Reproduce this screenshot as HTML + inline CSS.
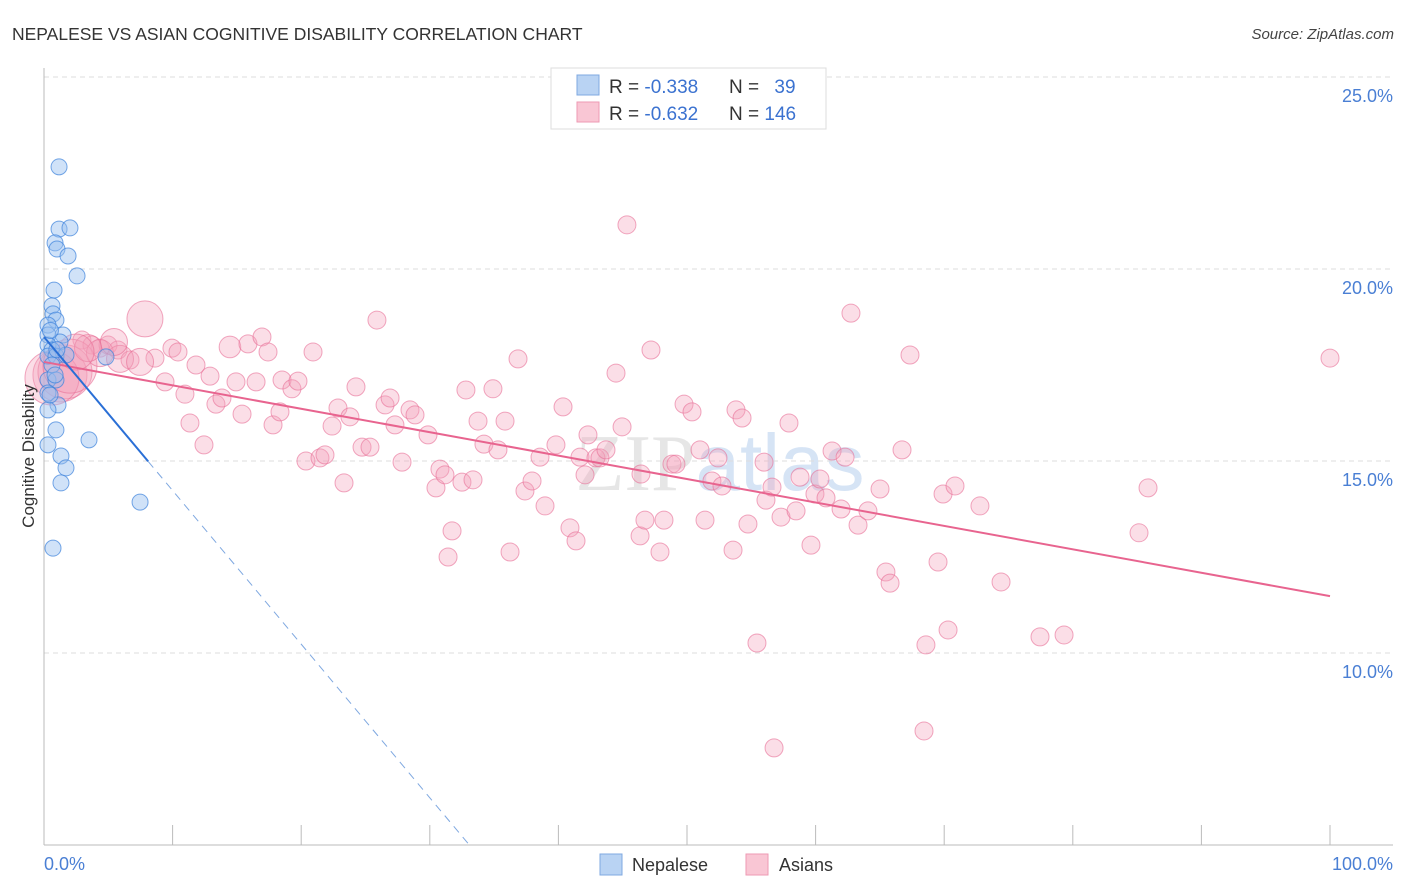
<!DOCTYPE html>
<html><head><meta charset="utf-8"><style>
body{margin:0;background:#fff;font-family:"Liberation Sans",sans-serif;}
svg{display:block}
</style></head><body>
<svg id="chart" width="1406" height="892" viewBox="0 0 1406 892" xmlns="http://www.w3.org/2000/svg">
<text x="12" y="40" font-size="17.5" fill="#333">NEPALESE VS ASIAN COGNITIVE DISABILITY CORRELATION CHART</text>
<text x="1394" y="39" font-size="15" fill="#444" text-anchor="end" font-style="italic">Source: ZipAtlas.com</text>
<text x="720" y="490" font-size="80" fill="#e6e6e6" text-anchor="middle" font-family="Liberation Serif">ZIP<tspan fill="#d6e4f5" font-family="Liberation Sans">atlas</tspan></text>
<g id="grid"></g>
<g id="axes"></g>
<g id="pts"></g>
<g id="lines"></g>
<text transform="translate(34,456) rotate(-90)" font-size="17" fill="#333" text-anchor="middle">Cognitive Disability</text>
<text x="44" y="870" font-size="18" fill="#4a7fd4">0.0%</text>
<text x="1393" y="870" font-size="18" fill="#4a7fd4" text-anchor="end">100.0%</text>
<g>
<rect x="551" y="68" width="275" height="61" fill="#fff" stroke="#ddd"/>
<rect x="577" y="75" width="22" height="20" fill="#b9d3f3" stroke="#7fa8e0"/>
<rect x="577" y="102" width="22" height="20" fill="#f9c6d4" stroke="#ee9ab3"/>
<text x="609" y="93" font-size="19" fill="#333">R = <tspan fill="#3b72d0">-0.338</tspan></text>
<text x="729" y="93" font-size="19" fill="#333">N = <tspan fill="#3b72d0" dx="10">39</tspan></text>
<text x="609" y="120" font-size="19" fill="#333">R = <tspan fill="#3b72d0">-0.632</tspan></text>
<text x="729" y="120" font-size="19" fill="#333">N = <tspan fill="#3b72d0">146</tspan></text>
</g>
<g>
<rect x="600" y="854" width="22" height="21" fill="#b9d3f3" stroke="#7fa8e0"/>
<text x="632" y="871" font-size="18" fill="#333">Nepalese</text></g>
<g>
<rect x="746" y="854" width="22" height="21" fill="#f9c6d4" stroke="#ee9ab3"/>
<text x="779" y="871" font-size="18" fill="#333">Asians</text></g>
</svg>
<script>
const yTicks=[10,15,20,25];
const yTickLabels=["10.0%","15.0%","20.0%","25.0%"];
const xTicks=[10,20,30,40,50,60,70,80,90,100];
const nepX=[1.17,1.17,2.02,0.86,1.01,1.87,2.57,0.78,0.62,0.70,0.93,0.31,1.48,0.31,1.24,0.31,0.62,0.31,0.93,1.71,0.62,0.31,0.93,0.31,1.09,0.31,0.93,3.50,0.31,1.32,1.71,1.32,7.47,0.70,0.86,0.47,4.82,0.5,1.0];
const nepY=[22.66,21.04,21.07,20.68,20.52,20.34,19.82,19.45,19.04,18.83,18.67,18.54,18.28,18.28,18.10,18.02,17.89,17.73,17.73,17.76,17.50,17.11,17.11,16.77,16.46,16.33,15.81,15.55,15.42,15.13,14.82,14.43,13.93,12.73,17.24,16.72,17.71,18.4,17.9];
const asX=[7.85,2.95,3.73,4.35,4.98,5.75,6.69,8.63,9.95,10.42,11.82,12.91,14.46,15.86,16.95,17.42,20.92,25.89,9.41,10.96,11.35,12.44,13.37,13.84,14.93,15.40,16.49,17.81,18.51,19.28,19.75,18.35,20.37,21.46,21.85,22.40,22.86,23.33,23.79,24.26,24.73,25.35,26.52,26.91,27.29,27.84,28.46,28.85,29.86,30.48,30.79,31.18,31.73,31.42,32.50,32.81,33.36,33.75,34.21,34.91,35.30,35.85,36.24,36.86,37.40,37.95,38.57,38.96,39.81,40.36,40.90,41.37,41.68,42.07,42.30,42.92,43.23,43.70,44.48,44.95,45.33,46.35,46.42,46.73,47.20,47.90,48.21,48.83,49.14,49.77,50.39,51.01,51.40,51.94,52.41,52.72,53.58,53.81,54.28,54.74,55.44,55.99,56.14,56.61,57.31,56.77,57.93,58.48,58.79,59.64,59.95,60.34,60.81,61.28,61.98,62.29,62.75,63.30,64.07,65.01,65.47,65.79,66.72,67.34,68.58,68.43,69.52,69.91,70.30,70.84,72.78,74.42,77.45,79.32,85.15,85.85,100.0,1.24,1.63,0.62,2.02,4.35,5.91,7.47,5.44,3.42,2.49];
const asY=[18.70,18.15,18.02,17.94,18.02,17.89,17.63,17.68,17.94,17.84,17.50,17.21,17.97,18.05,18.23,17.84,17.84,18.67,17.06,16.74,15.99,15.42,16.48,16.64,17.06,16.22,17.06,15.94,17.11,16.88,17.08,16.28,15.00,15.08,15.16,15.91,16.38,14.43,16.15,16.93,15.36,15.36,16.46,16.64,15.94,14.97,16.33,16.20,15.68,14.30,14.79,14.64,13.18,12.50,14.45,16.85,14.51,16.04,15.44,16.88,15.29,16.04,12.63,17.66,14.22,14.48,15.10,13.83,15.42,16.41,13.26,12.92,15.10,14.64,15.68,15.08,15.08,15.29,17.29,15.89,21.15,13.05,14.66,13.46,17.89,12.63,13.46,14.92,14.92,16.48,16.28,15.29,13.46,14.48,15.08,14.35,12.68,16.33,16.12,13.36,10.26,14.97,13.98,14.32,13.54,7.53,15.99,13.70,14.58,12.81,14.14,14.53,14.04,15.26,13.75,15.10,18.85,13.33,13.70,14.27,12.11,11.82,15.29,17.76,10.21,7.97,12.37,14.14,10.60,14.35,13.83,11.85,10.42,10.47,13.13,14.30,17.68,17.24,17.32,17.16,17.47,17.81,17.66,17.58,18.10,17.94,17.84];
const asW=[2,1,1,1,1,1,1,1,1,1,1,1,1.2,1,1,1,1,1,1,1,1,1,1,1,1,1,1,1,1,1,1,1,1,1,1,1,1,1,1,1,1,1,1,1,1,1,1,1,1,1,1,1,1,1,1,1,1,1,1,1,1,1,1,1,1,1,1,1,1,1,1,1,1,1,1,1,1,1,1,1,1,1,1,1,1,1,1,1,1,1,1,1,1,1,1,1,1,1,1,1,1,1,1,1,1,1,1,1,1,1,1,1,1,1,1,1,1,1,1,1,1,1,1,1,1,1,1,1,1,1,1,1,1,1,1,1,1,3,3,3,3,1.5,1.5,1.5,1.5,1.5,2];
const nepFit=[18.23,-0.4];
const asFit=[17.58,-0.061];
const X=v=>44+v*12.86, Y=v=>845-(v-5)*38.4;
const NS="http://www.w3.org/2000/svg";
function mk(t,a,p){const e=document.createElementNS(NS,t);for(const k in a)e.setAttribute(k,a[k]);p.appendChild(e);return e;}
const grid=document.getElementById('grid'),axes=document.getElementById('axes'),pts=document.getElementById('pts'),lines=document.getElementById('lines');
yTicks.forEach((t,i)=>{
 const g=mk('line',{x1:44,x2:1393,y1:Y(t),y2:Y(t),stroke:'#ddd','stroke-dasharray':'5,4'},grid);
 
 
 const l=mk('text',{x:1393,y:Y(t)+25,'font-size':18,fill:'#4a7fd4','text-anchor':'end'},grid);
 l.textContent=yTickLabels[i];
 
 
});
const ya=mk('line',{x1:44,x2:44,y1:68,y2:845,stroke:'#bbb'},axes);


const xa=mk('line',{x1:44,x2:1393,y1:845,y2:845,stroke:'#bbb'},axes);


xTicks.forEach(t=>{
 const k=mk('line',{x1:X(t),x2:X(t),y1:825,y2:845,stroke:'#bbb'},axes);
 
 
});
asX.forEach((x,i)=>{
 const c=mk('circle',{cx:X(x),cy:Y(asY[i]),r:9*(asW[i]||1),fill:'rgba(244,160,186,0.35)',stroke:'rgba(232,110,150,0.6)','stroke-width':1},pts);
 
 
});
nepX.forEach((x,i)=>{
 const c=mk('circle',{cx:X(x),cy:Y(nepY[i]),r:8,fill:'rgba(150,190,240,0.45)',stroke:'rgba(60,130,220,0.7)','stroke-width':1},pts);
 
 
});
const asL=mk('line',{x1:X(0),y1:Y(asFit[0]),x2:X(100),y2:Y(asFit[0]+asFit[1]*100),stroke:'#e8648f','stroke-width':2},lines);


const xs=8.1, xe=(5-nepFit[0])/nepFit[1];
const nL=mk('line',{x1:X(0),y1:Y(nepFit[0]),x2:X(xs),y2:Y(nepFit[0]+nepFit[1]*xs),stroke:'#2a6fd6','stroke-width':2},lines);


const nD=mk('line',{x1:X(xs),y1:Y(nepFit[0]+nepFit[1]*xs),x2:X(xe),y2:Y(5),stroke:'#7fa8e0','stroke-width':1,'stroke-dasharray':'8,6'},lines);


</script>
</body></html>
